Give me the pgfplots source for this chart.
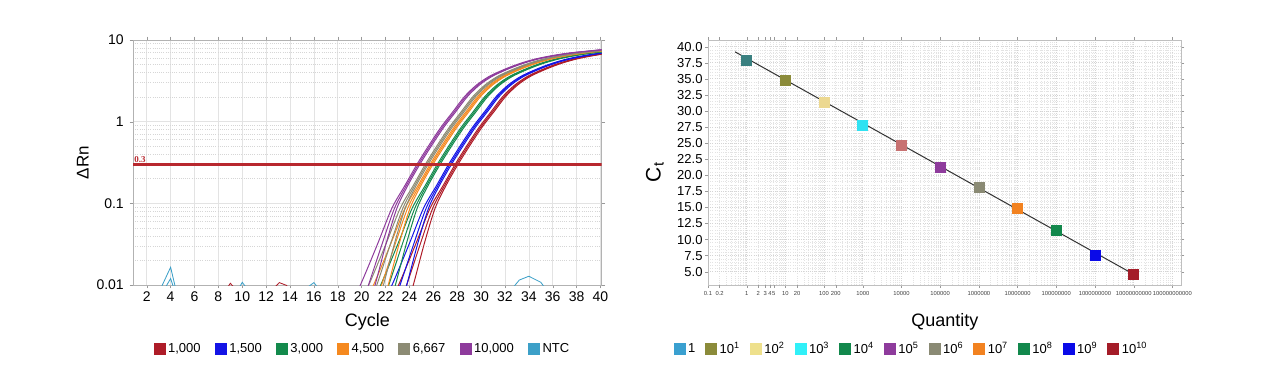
\documentclass[border=0pt]{standalone}
\usepackage{pgfplots}
\pgfplotsset{compat=1.18}
\usepackage{pgfplotstable}
\usepackage{fontspec}
\setmainfont{Liberation Sans}
\newfontfamily\serifb{Liberation Serif}

\definecolor{c1000}{HTML}{AE1C28}
\definecolor{c1500}{HTML}{1414E6}
\definecolor{c3000}{HTML}{138A4C}
\definecolor{c4500}{HTML}{F5891F}
\definecolor{c6667}{HTML}{8C8B74}
\definecolor{c10000}{HTML}{8E3B9C}
\definecolor{cntc}{HTML}{3CA0C8}
\definecolor{cthr}{HTML}{B8282E}
% right chart marker colours
\definecolor{m0}{HTML}{3A8080}
\definecolor{m1}{HTML}{8B8B3A}
\definecolor{m2}{HTML}{ECD890}
\definecolor{m3}{HTML}{30E2F2}
\definecolor{m4}{HTML}{C87272}
\definecolor{m5}{HTML}{8E3B9C}
\definecolor{m6}{HTML}{8A8A74}
\definecolor{m7}{HTML}{F28220}
\definecolor{m8}{HTML}{12884C}
\definecolor{m9}{HTML}{0A0AE8}
\definecolor{m10}{HTML}{A41C28}
% right legend colours
\definecolor{l0}{HTML}{3AA0D0}
\definecolor{l2}{HTML}{EEE08C}
\definecolor{l3}{HTML}{30F0F8}
\definecolor{l4}{HTML}{12884C}

\pgfplotsset{sqleg/.style={legend image code/.code={\fill[##1] (0pt,-3.6pt) rectangle (7.2pt,3.6pt);}}}

% amplification curves: y, replicate x positions a, b, c
\pgfplotstableread{
y a b c
0.00178 17.73 18.75 19.57
0.00447 18.83 19.75 20.47
0.0120 20.13 20.75 21.27
0.0331 21.38 21.75 22.07
0.0871 22.53 22.75 22.95
0.166 23.63 23.75 23.87
0.300 24.63 24.75 24.87
0.513 25.63 25.75 25.87
0.851 26.63 26.75 26.87
1.318 27.63 27.75 27.87
2.042 28.63 28.75 28.87
2.818 29.63 29.75 29.87
3.548 30.63 30.75 30.87
4.169 31.63 31.75 31.87
4.786 32.63 32.75 32.87
5.370 33.63 33.75 33.87
5.888 34.63 34.75 34.87
6.310 35.63 35.75 35.87
6.683 36.63 36.75 36.87
7.000 37.63 37.75 37.87
7.244 38.63 38.75 38.87
7.499 39.63 39.75 39.87
7.762 40.63 40.75 40.87
}\tpurple
\pgfplotstableread{
y a b c
0.00178 18.43 19.45 20.27
0.00447 19.53 20.45 21.17
0.0120 20.83 21.45 21.97
0.0331 22.08 22.45 22.77
0.0871 23.23 23.45 23.65
0.166 24.33 24.45 24.57
0.300 25.33 25.45 25.57
0.513 26.33 26.45 26.57
0.851 27.33 27.45 27.57
1.318 28.33 28.45 28.57
2.042 29.33 29.45 29.57
2.818 30.33 30.45 30.57
3.548 31.33 31.45 31.57
4.169 32.33 32.45 32.57
4.786 33.33 33.45 33.57
5.370 34.33 34.45 34.57
5.888 35.33 35.45 35.57
6.310 36.33 36.45 36.57
6.683 37.33 37.45 37.57
7.000 38.33 38.45 38.57
7.244 39.33 39.45 39.57
7.499 40.33 40.45 40.57
}\tgray
\pgfplotstableread{
y a b c
0.00178 18.83 19.85 20.67
0.00447 19.93 20.85 21.57
0.0120 21.23 21.85 22.37
0.0331 22.48 22.85 23.17
0.0871 23.63 23.85 24.05
0.166 24.73 24.85 24.97
0.300 25.73 25.85 25.97
0.513 26.73 26.85 26.97
0.851 27.73 27.85 27.97
1.318 28.73 28.85 28.97
2.042 29.73 29.85 29.97
2.818 30.73 30.85 30.97
3.548 31.73 31.85 31.97
4.169 32.73 32.85 32.97
4.786 33.73 33.85 33.97
5.370 34.73 34.85 34.97
5.888 35.73 35.85 35.97
6.310 36.73 36.85 36.97
6.683 37.73 37.85 37.97
7.000 38.73 38.85 38.97
7.244 39.73 39.85 39.97
7.499 40.73 40.85 40.97
}\torange
\pgfplotstableread{
y a b c
0.00178 19.43 20.45 21.27
0.00447 20.53 21.45 22.17
0.0120 21.83 22.45 22.97
0.0331 23.08 23.45 23.77
0.0871 24.23 24.45 24.65
0.166 25.33 25.45 25.57
0.300 26.33 26.45 26.57
0.513 27.33 27.45 27.57
0.851 28.33 28.45 28.57
1.318 29.33 29.45 29.57
2.042 30.33 30.45 30.57
2.818 31.33 31.45 31.57
3.548 32.33 32.45 32.57
4.169 33.33 33.45 33.57
4.786 34.33 34.45 34.57
5.370 35.33 35.45 35.57
5.888 36.33 36.45 36.57
6.310 37.33 37.45 37.57
6.683 38.33 38.45 38.57
7.000 39.33 39.45 39.57
7.244 40.33 40.45 40.57
}\tgreen
\pgfplotstableread{
y a b c
0.00178 20.38 21.40 22.22
0.00447 21.48 22.40 23.12
0.0120 22.78 23.40 23.92
0.0331 24.03 24.40 24.72
0.0871 25.18 25.40 25.60
0.166 26.28 26.40 26.52
0.300 27.28 27.40 27.52
0.513 28.28 28.40 28.52
0.851 29.28 29.40 29.52
1.318 30.28 30.40 30.52
2.042 31.28 31.40 31.52
2.818 32.28 32.40 32.52
3.548 33.28 33.40 33.52
4.169 34.28 34.40 34.52
4.786 35.28 35.40 35.52
5.370 36.28 36.40 36.52
5.888 37.28 37.40 37.52
6.310 38.28 38.40 38.52
6.683 39.28 39.40 39.52
7.000 40.28 40.40 40.52
}\tblue
\pgfplotstableread{
y a b c
0.00178 20.93 21.95 22.77
0.00447 22.03 22.95 23.67
0.0120 23.33 23.95 24.47
0.0331 24.58 24.95 25.27
0.0871 25.73 25.95 26.15
0.166 26.83 26.95 27.07
0.300 27.83 27.95 28.07
0.513 28.83 28.95 29.07
0.851 29.83 29.95 30.07
1.318 30.83 30.95 31.07
2.042 31.83 31.95 32.07
2.818 32.83 32.95 33.07
3.548 33.83 33.95 34.07
4.169 34.83 34.95 35.07
4.786 35.83 35.95 36.07
5.370 36.83 36.95 37.07
5.888 37.83 37.95 38.07
6.310 38.83 38.95 39.07
6.683 39.83 39.95 40.07
7.000 40.83 40.95 41.07
}\tred

\begin{document}
\begin{tikzpicture}
\useasboundingbox (0,0) rectangle (768pt,233.4pt);

% ---------------- left: amplification plot ----------------
\begin{axis}[
  at={(79.8pt,62.4pt)}, anchor=south west,
  scale only axis, width=281.2pt, height=147pt,
  xmin=0.85, xmax=40.1,
  ymode=log, ymin=0.01, ymax=10,
  xtick={2,4,...,40},
  ytickten={-2,-1,0,1}, yticklabels={0.01,0.1,1,10},
  xmajorgrids=true, ymajorgrids=true, yminorgrids=true,
  major grid style={draw=black!11, line width=0.4pt},
  minor grid style={draw=black!16, dash pattern=on 0.5pt off 0.8pt, line width=0.4pt},
  axis line style={draw=black!30},
  tick align=outside, major tick length=2pt, minor tick length=0pt,
  tick style={draw=black!40},
  tick label style={font=\fontsize{8.4}{10}\selectfont},
  xticklabel style={inner sep=2pt},
  /pgf/number format/assume math mode=true,
  xlabel={Cycle},
  xlabel style={at={(axis description cs:0.5,-0.151)}, anchor=center, font=\fontsize{10.8}{12}\selectfont},
  ylabel={ΔRn},
  ylabel style={at={(axis description cs:-0.107,0.5)}, anchor=center, font=\fontsize{10.2}{12}\selectfont},
  legend style={at={(axis description cs:0.49,-0.261)}, anchor=center, draw=none, fill=none,
    font=\fontsize{7.8}{9}\selectfont, nodes={inner sep=1.5pt},
    /tikz/every even column/.append style={column sep=7pt}},
  legend columns=-1,
  every axis plot/.append style={line width=0.6pt},
]
\addlegendimage{sqleg, fill=c1000, draw=none}\addlegendentry{1,000}
\addlegendimage{sqleg, fill=c1500, draw=none}\addlegendentry{1,500}
\addlegendimage{sqleg, fill=c3000, draw=none}\addlegendentry{3,000}
\addlegendimage{sqleg, fill=c4500, draw=none}\addlegendentry{4,500}
\addlegendimage{sqleg, fill=c6667, draw=none}\addlegendentry{6,667}
\addlegendimage{sqleg, fill=c10000, draw=none}\addlegendentry{10,000}
\addlegendimage{sqleg, fill=cntc, draw=none}\addlegendentry{NTC}

% NTC and baseline noise
\addplot[forget plot, cntc, line width=0.5pt] coordinates {(3.0,0.008) (4.0,0.0165) (4.6,0.007)};
\addplot[forget plot, cntc, line width=0.5pt] coordinates {(3.3,0.008) (4.0,0.012) (4.4,0.008)};
\addplot[forget plot, cntc, line width=0.5pt] coordinates {(9.7,0.009) (10.0,0.0108) (10.4,0.009)};
\addplot[forget plot, cntc, line width=0.5pt] coordinates {(15.3,0.009) (16.0,0.0107) (16.4,0.009)};
\addplot[forget plot, cntc, line width=0.5pt] coordinates {(32.6,0.009) (33.2,0.0115) (34.0,0.0128) (35.0,0.0108) (35.4,0.009)};
\addplot[forget plot, c1000, line width=0.5pt] coordinates {(8.7,0.009) (9.0,0.0105) (9.4,0.009)};
\addplot[forget plot, c1000, line width=0.5pt] coordinates {(12.6,0.009) (13.1,0.0107) (13.7,0.0099) (14.0,0.009)};

% amplification curves
\foreach \col in {a,b,c} {
  \addplot[forget plot, c1000, smooth] table[x=\col, y=y] {\tred};
  \addplot[forget plot, c1500, smooth] table[x=\col, y=y] {\tblue};
  \addplot[forget plot, c3000, smooth] table[x=\col, y=y] {\tgreen};
  \addplot[forget plot, c4500, smooth] table[x=\col, y=y] {\torange};
  \addplot[forget plot, c6667, smooth] table[x=\col, y=y] {\tgray};
  \addplot[forget plot, c10000, smooth] table[x=\col, y=y] {\tpurple};
}

% threshold
\addplot[forget plot, cthr, line width=1.4pt] coordinates {(0.85,0.3) (40.1,0.3)};
\node[anchor=south west, inner sep=0.6pt, text=cthr, font=\serifb\bfseries\fontsize{5.4}{6}\selectfont] at (axis cs:0.85,0.3) {0.3};
\end{axis}

% ---------------- right: standard curve ----------------
\begin{axis}[
  at={(424.8pt,62.4pt)}, anchor=south west,
  scale only axis, width=284.2pt, height=147pt,
  xmode=log, xmin=0.1, xmax=1.74e11,
  ymin=2.93, ymax=41.04,
  xtickten={-1,0,1,2,3,4,5,6,7,8,9,10,11},
  xticklabels={0.1,1,10,100,1000,10000,100000,1000000,10000000,100000000,1000000000,10000000000,100000000000},
  extra x ticks={0.2,2,3,4,5,20,200},
  extra x tick labels={0.2,2,3,4,5,20,200},
  extra x tick style={grid=none},
  ytick={5,7.5,10,12.5,15,17.5,20,22.5,25,27.5,30,32.5,35,37.5,40},
  minor y tick num=4,
  /pgf/number format/fixed,
  /pgf/number format/fixed zerofill,
  /pgf/number format/precision=1,
  /pgf/number format/assume math mode=true,
  xmajorgrids=true, ymajorgrids=true, xminorgrids=true, yminorgrids=true,
  major grid style={draw=black!17, dash pattern=on 0.5pt off 0.8pt, line width=0.4pt},
  minor grid style={draw=black!11, dash pattern=on 0.5pt off 0.8pt, line width=0.4pt},
  axis line style={draw=black!25},
  tick align=outside, major tick length=1.6pt, minor tick length=0pt,
  tick style={draw=black!40},
  y tick label style={font=\fontsize{7.8}{9}\selectfont, inner sep=1.5pt},
  x tick label style={font=\fontsize{3.5}{4}\selectfont, text=black!75, inner sep=2pt},
  xlabel={Quantity},
  xlabel style={at={(axis description cs:0.5,-0.151)}, anchor=center, font=\fontsize{10.8}{12}\selectfont},
  ylabel={C\textsubscript{t}},
  ylabel style={at={(axis description cs:-0.112,0.461)}, anchor=center, font=\fontsize{12.6}{14}\selectfont},
  legend style={at={(axis description cs:0.43,-0.261)}, anchor=center, draw=none, fill=none,
    font=\fontsize{7.8}{9}\selectfont, nodes={inner sep=1.5pt},
    /tikz/every even column/.append style={column sep=4.4pt}},
  legend columns=-1,
]
\addlegendimage{sqleg, fill=l0, draw=none}\addlegendentry{1}
\addlegendimage{sqleg, fill=m1, draw=none}\addlegendentry{10\textsuperscript{1}}
\addlegendimage{sqleg, fill=l2, draw=none}\addlegendentry{10\textsuperscript{2}}
\addlegendimage{sqleg, fill=l3, draw=none}\addlegendentry{10\textsuperscript{3}}
\addlegendimage{sqleg, fill=l4, draw=none}\addlegendentry{10\textsuperscript{4}}
\addlegendimage{sqleg, fill=m5, draw=none}\addlegendentry{10\textsuperscript{5}}
\addlegendimage{sqleg, fill=m6, draw=none}\addlegendentry{10\textsuperscript{6}}
\addlegendimage{sqleg, fill=m7, draw=none}\addlegendentry{10\textsuperscript{7}}
\addlegendimage{sqleg, fill=m8, draw=none}\addlegendentry{10\textsuperscript{8}}
\addlegendimage{sqleg, fill=m9, draw=none}\addlegendentry{10\textsuperscript{9}}
\addlegendimage{sqleg, fill=m10, draw=none}\addlegendentry{10\textsuperscript{10}}

% fitted standard curve
\addplot[forget plot, draw=black!80, line width=0.6pt] coordinates {(0.5,39.2) (1e10,4.6)};
% standards
\addplot[forget plot, only marks, mark=square*, mark size=3pt, m0, mark options={draw=none}] coordinates {(1,37.8)};
\addplot[forget plot, only marks, mark=square*, mark size=3pt, m1, mark options={draw=none}] coordinates {(10,34.8)};
\addplot[forget plot, only marks, mark=square*, mark size=3pt, m2, mark options={draw=none}] coordinates {(100,31.3)};
\addplot[forget plot, only marks, mark=square*, mark size=3pt, m3, mark options={draw=none}] coordinates {(1000,27.8)};
\addplot[forget plot, only marks, mark=square*, mark size=3pt, m4, mark options={draw=none}] coordinates {(1e4,24.6)};
\addplot[forget plot, only marks, mark=square*, mark size=3pt, m5, mark options={draw=none}] coordinates {(1e5,21.2)};
\addplot[forget plot, only marks, mark=square*, mark size=3pt, m6, mark options={draw=none}] coordinates {(1e6,18.1)};
\addplot[forget plot, only marks, mark=square*, mark size=3pt, m7, mark options={draw=none}] coordinates {(1e7,14.8)};
\addplot[forget plot, only marks, mark=square*, mark size=3pt, m8, mark options={draw=none}] coordinates {(1e8,11.5)};
\addplot[forget plot, only marks, mark=square*, mark size=3pt, m9, mark options={draw=none}] coordinates {(1e9,7.6)};
\addplot[forget plot, only marks, mark=square*, mark size=3pt, m10, mark options={draw=none}] coordinates {(1e10,4.6)};
\end{axis}
\end{tikzpicture}
\end{document}
